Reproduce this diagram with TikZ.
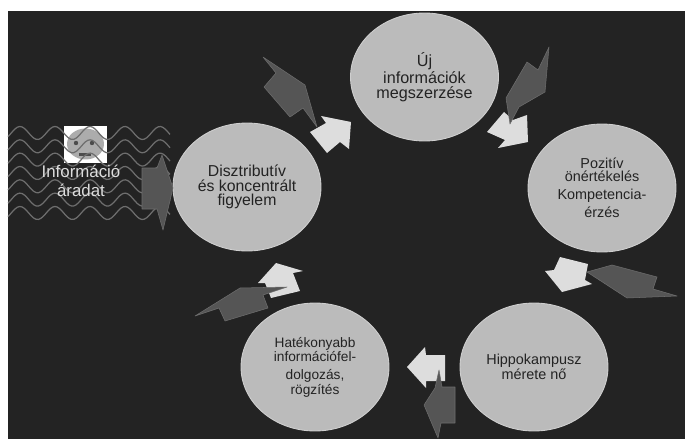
\documentclass[tikz,border=0pt]{standalone}
\usepackage{fontspec}
\setmainfont{Liberation Sans}
\usepackage{xcolor}
\usetikzlibrary{shapes.geometric}

\definecolor{hatter}{HTML}{232323}
\definecolor{korfill}{HTML}{BBBBBB}
\definecolor{nyilvilagos}{HTML}{DDDDDD}
\definecolor{nyilsotet}{HTML}{555555}
\definecolor{hullam}{HTML}{6E6E6E}

\tikzset{
    kor/.style={ellipse, draw=korfill!70!white, line width=0.5pt, fill=korfill, minimum width=2.96cm, minimum height=2.56cm, inner sep=0pt, align=center, text=hatter, font=\fontsize{9}{8.3}\selectfont},
    nagybetu/.style={font=\fontsize{9.2}{8.6}\selectfont},
    kozepbetu/.style={font=\fontsize{8.2}{7.2}\selectfont},
    kisbetu/.style={font=\fontsize{7.8}{6.8}\selectfont},
    vilagos/.style={fill=nyilvilagos, draw=none},
    sotet/.style={fill=nyilsotet, draw=nyilsotet!85!white, line width=0.3pt, line join=round},
    hullamvonal/.style={draw=hullam, line width=0.7pt}
}

\begin{document}
\begin{tikzpicture}[x=0.02cm, y=-0.02cm]
    \useasboundingbox (0,0) rectangle (685,439);
    \fill[white] (0,0) rectangle (685,439);
    \fill[hatter] (8,11) rectangle (685,439);

    % ikon
    \node[draw=white, fill=white, line width=0.5pt, minimum width=0.84cm, minimum height=0.72cm, inner sep=0pt] (ikon) at (85.5,144) {};
    \node[ellipse, fill=gray!65, minimum width=0.74cm, minimum height=0.62cm, inner sep=0pt] (arc) at (85.5,144) {};
    \fill[black!70] (76,143) circle (2.2);
    \fill[black!70] (92,143) circle (2.2);
    \fill[black!70] (79,153) rectangle (91,156);

    % hullamok
    \foreach \y in {133,146.3,159.6,173,186.3,199.6,213} {
        \draw[hullamvonal, smooth, domain=8:170, samples=70] plot (\x, {\y-6.5*cos(10.2857*(\x-20))});
    }

    \node[text=nyilvilagos, align=center, font=\fontsize{9.6}{11}\selectfont] (aradat) at (81,181) {Információ\\áradat};

    % korok
    \node[kor] (figyelem) at (247,187) {Disztributív\\és koncentrált\\figyelem};
    \node[kor, nagybetu] (uj) at (424.5,77) {Új\\információk\\megszerzése};
    \node[kor, kozepbetu] (pozitiv) at (602,188) {Pozitív\\önértékelés\\[3pt]Kompetencia-\\[1.8pt]érzés};
    \node[kor, kozepbetu] (hippo) at (534,367) {Hippokampusz\\mérete nő};
    \node[kor, kisbetu] (hatekony) at (315,367) {Hatékonyabb\\információfel-\\[3.2pt]dolgozás,\\rögzítés};

    % vilagos nyilak
    \fill[vilagos] (310,132) -- (326,123) -- (321,116) -- (351,122) -- (349,149) -- (340,142) -- (327,153) -- cycle;
    \fill[vilagos] (487,132) -- (504,112) -- (513,120) -- (527,115) -- (528,142) -- (498,148) -- (505,140) -- cycle;
    \fill[vilagos] (560,257) -- (588,264) -- (585,280) -- (592,284) -- (562,292) -- (545,271) -- (554,270) -- cycle;
    \fill[vilagos] (445,355) -- (426,355) -- (425,347) -- (407,367) -- (426,388) -- (426,381) -- (445,381) -- cycle;
    \fill[vilagos] (271,298) -- (300,291) -- (293,273) -- (303,271) -- (276,263) -- (258,283) -- (265,283) -- cycle;

    % sotet nyilak
    \filldraw[sotet] (142,168) -- (157,168) -- (162,155) -- (173,188) -- (163,230) -- (157,209) -- (142,209) -- cycle;
    \filldraw[sotet] (263,57) -- (305,85) -- (317,127) -- (303,108) -- (290,117) -- (264,87) -- (276,73) -- cycle;
    \filldraw[sotet] (549,47) -- (545,92) -- (519,107) -- (510,124) -- (506,98) -- (527,62) -- (538,70) -- cycle;
    \filldraw[sotet] (587,272) -- (612,265) -- (657,277) -- (653,289) -- (677,296) -- (627,298) -- cycle;
    \filldraw[sotet] (439,370) -- (442,387) -- (455,387) -- (455,423) -- (441,423) -- (438,438) -- (424,405) -- (435,388) -- cycle;
    \filldraw[sotet] (287,287) -- (263,295) -- (268,308) -- (225,321) -- (219,308) -- (195,316) -- (240,288) -- cycle;
\end{tikzpicture}
\end{document}
